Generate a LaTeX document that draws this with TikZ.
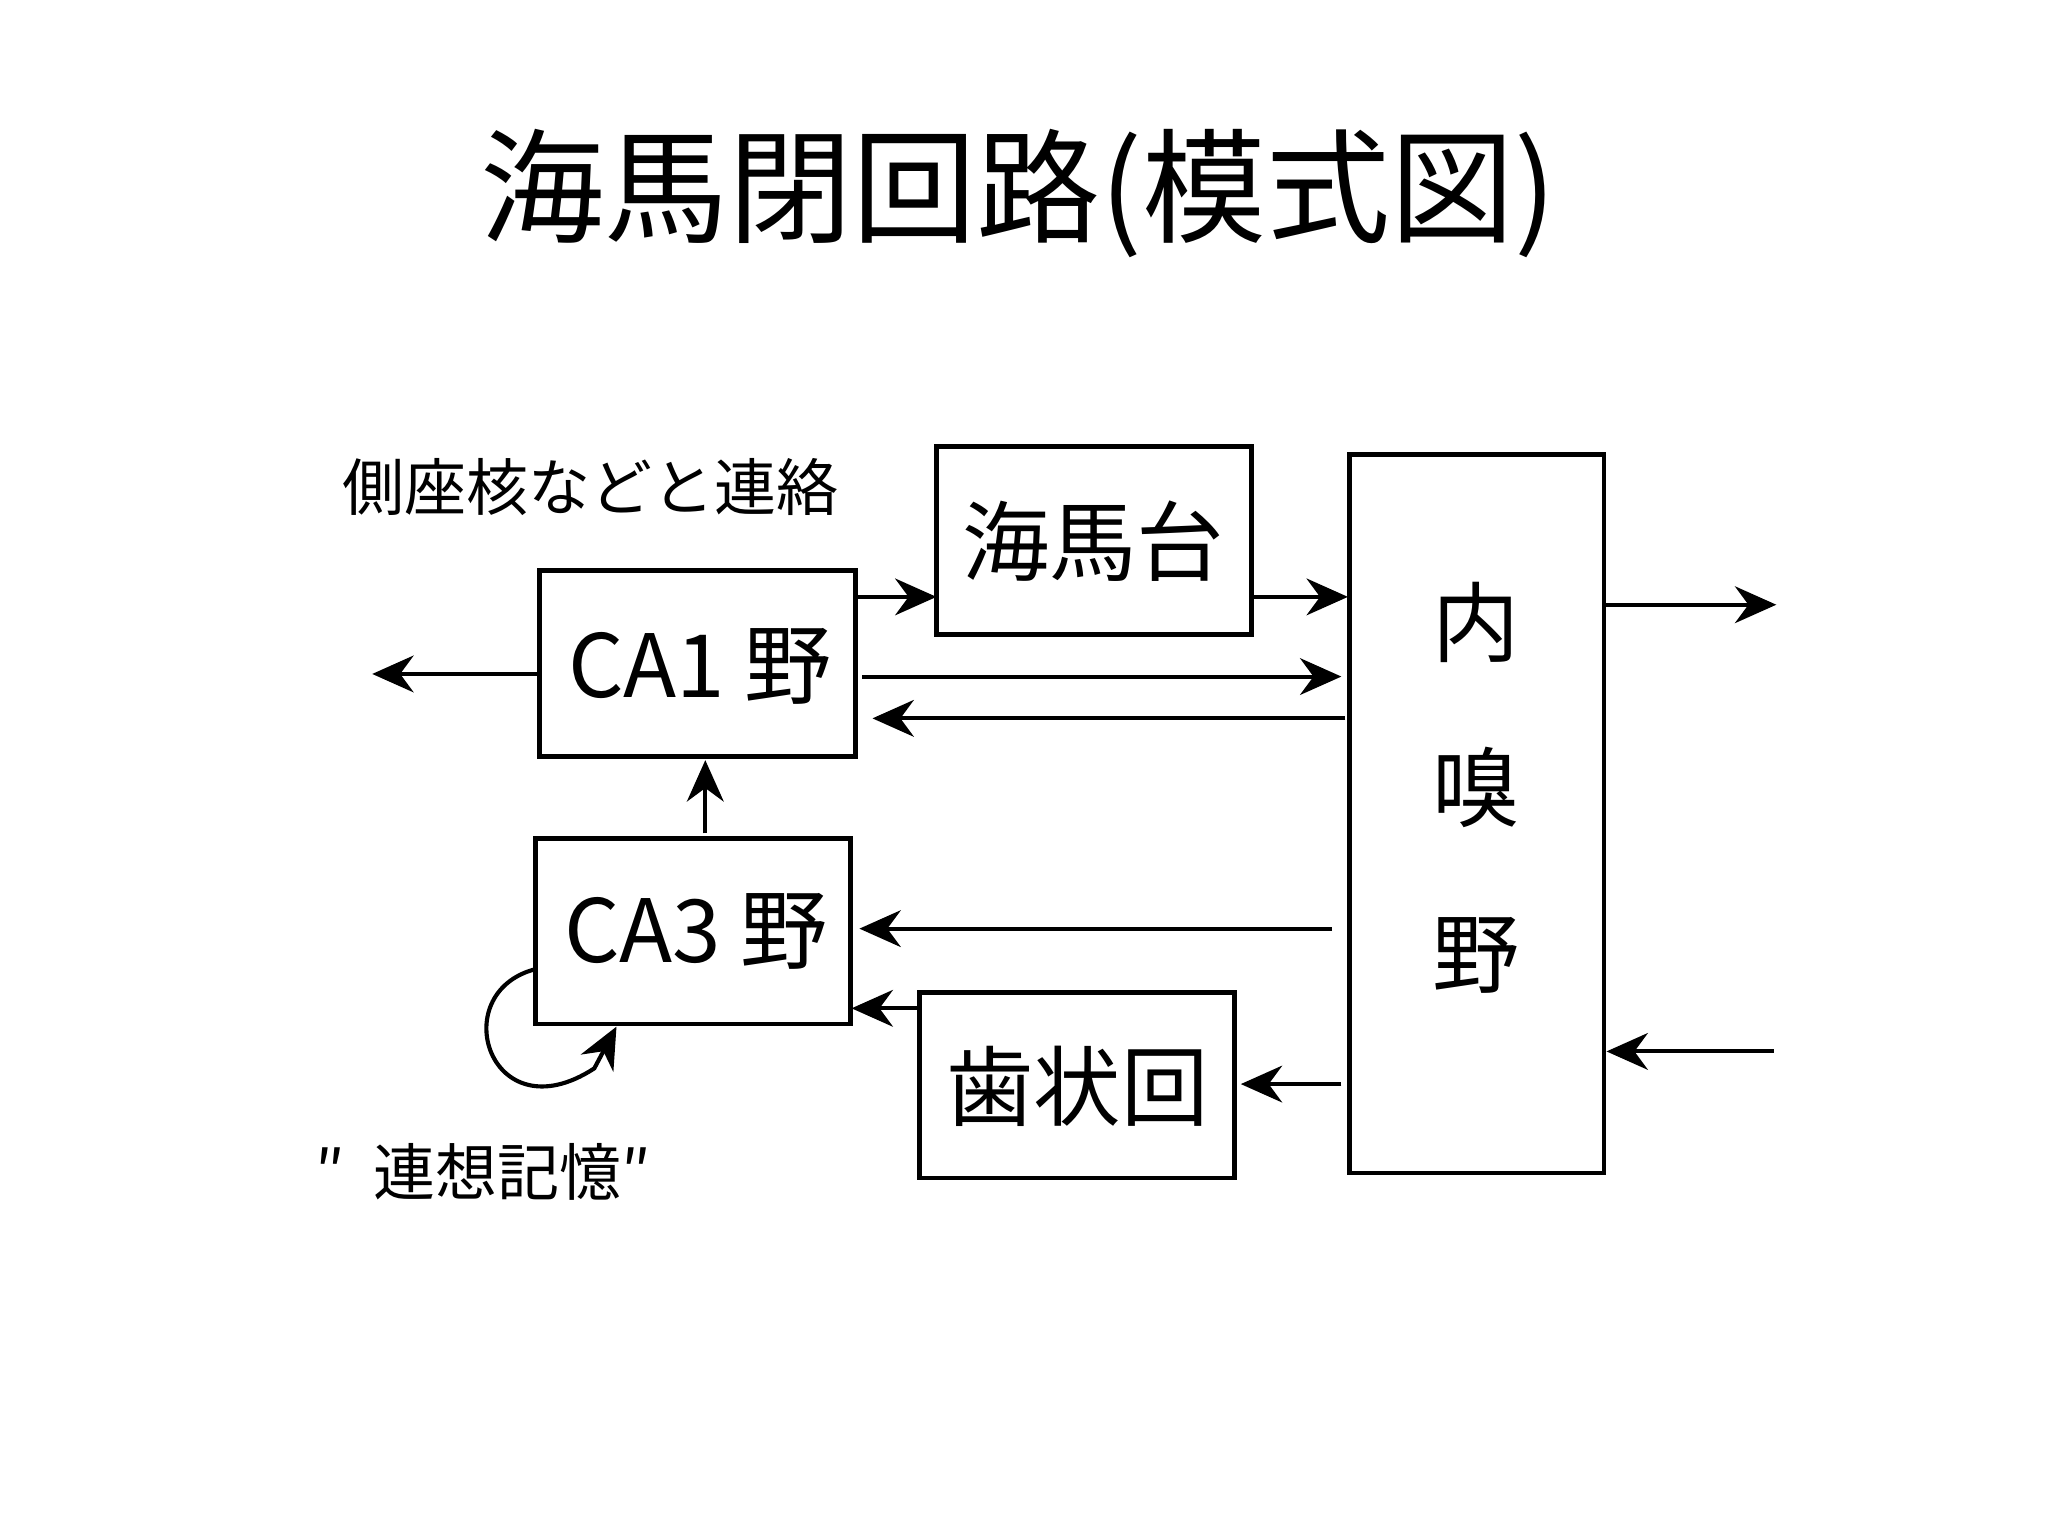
\documentclass[tikz,border=0pt]{standalone}
\usepackage{fontspec}
\setmainfont{Noto Sans CJK JP}
\usetikzlibrary{arrows.meta}
\begin{document}
\begin{tikzpicture}[x=0.01cm,y=-0.01cm,
 box/.style={draw,line width=1pt,inner sep=0pt},
 arr/.style={-{Stealth[length=9pt,width=8pt]},line width=0.9pt},
 lab/.style={font=\fontsize{19}{22}\selectfont}]
\useasboundingbox (0,0) rectangle (1568,1176);
\node (title) at (780,148) {\fontsize{27}{30}\selectfont 海馬閉回路(模式図)};
\draw[box] (717,342) rectangle (958,486); \node[lab] (hb) at (837,414) {海馬台};
\draw[box] (1033,348) rectangle (1228,898);
\node[lab,align=center] (ec) at (1130,603) {内\\[14pt]嗅\\[14pt]野};
\draw[box] (413,437) rectangle (655,579); \node[lab] (ca1) at (536,510) {CA1 野};
\draw[box] (410,642) rectangle (651,784); \node[lab] (ca3) at (533,713) {CA3 野};
\draw[box] (704,760) rectangle (945,902); \node[lab] (dg) at (825,832) {歯状回};
\coordinate (a1) at (655,457); \coordinate (a2) at (717,457);
\draw[arr] (a1) -- (a2);
\coordinate (b1) at (958,457); \coordinate (b2) at (1032,457);
\draw[arr] (b1) -- (b2);
\coordinate (c1) at (660,518); \coordinate (c2) at (1027,518);
\draw[arr] (c1) -- (c2);
\coordinate (d1) at (1030,550); \coordinate (d2) at (668,550);
\draw[arr] (d1) -- (d2);
\coordinate (e1) at (413,516); \coordinate (e2) at (285,516);
\draw[arr] (e1) -- (e2);
\coordinate (f1) at (540,638); \coordinate (f2) at (540,582);
\draw[arr] (f1) -- (f2);
\coordinate (g1) at (1020,711); \coordinate (g2) at (658,711);
\draw[arr] (g1) -- (g2);
\coordinate (h1) at (704,772); \coordinate (h2) at (652,772);
\draw[arr] (h1) -- (h2);
\coordinate (i1) at (1027,830); \coordinate (i2) at (950,830);
\draw[arr] (i1) -- (i2);
\coordinate (j1) at (1228,463); \coordinate (j2) at (1360,463);
\draw[arr] (j1) -- (j2);
\coordinate (k1) at (1358,805); \coordinate (k2) at (1230,805);
\draw[arr] (k1) -- (k2);
\coordinate (l1) at (410,742); \coordinate (l2) at (472,786);
\draw[arr] (l1) .. controls (340,760) and (375,870) .. (455,818) -- (l2);
\node (t1) at (452,373) {\fontsize{13.5}{16}\selectfont 側座核などと連絡};
\node (t2) at (370,897) {\fontsize{13.5}{16}\selectfont ″\ \ 連想記憶″};
\end{tikzpicture}
\end{document}
